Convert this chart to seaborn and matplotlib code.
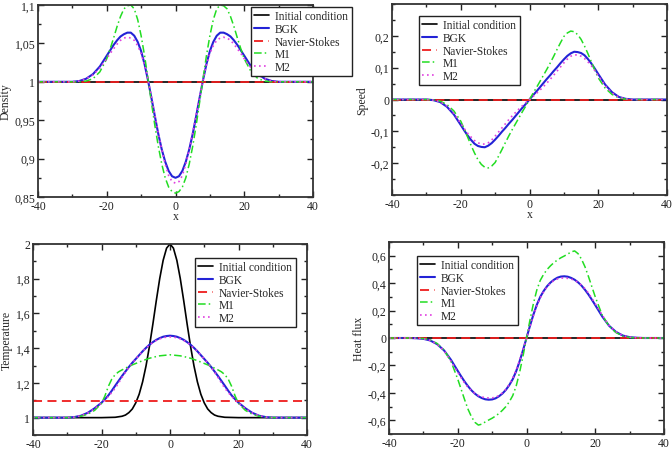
import numpy as np
import pandas as pd
import matplotlib
matplotlib.use("Agg")
import matplotlib.pyplot as plt
import seaborn as sns
from matplotlib.ticker import MultipleLocator, FixedLocator, FuncFormatter
from matplotlib.lines import Line2D

# ---------------- data ----------------
x = [-40, -38, -36, -34, -32, -30, -28, -26, -24, -22,
     -20, -19, -18, -17, -16, -15, -14, -13, -12, -11, -10, -9, -8, -7, -6, -5, -4, -3, -2, -1,
     0,
     1, 2, 3, 4, 5, 6, 7, 8, 9, 10, 11, 12, 13, 14, 15, 16, 17, 18, 19, 20,
     22, 24, 26, 28, 30, 32, 34, 36, 38, 40]

series_names = ["Initial condition", "BGK", "Navier-Stokes", "M1", "M2"]

# Density
dens_init = [1.0] * 61
dens_ns = [1.0] * 61
dens_bgk = [1.0, 1.0, 1.0, 1.0, 1.0, 1.0, 1.001, 1.004, 1.010, 1.020,
            1.034, 1.041, 1.048, 1.054, 1.059, 1.062, 1.064, 1.064, 1.060, 1.052, 1.040, 1.023, 1.002, 0.979, 0.955, 0.932, 0.912, 0.896, 0.884, 0.877,
            0.875,
            0.877, 0.884, 0.896, 0.912, 0.932, 0.955, 0.979, 1.002, 1.023, 1.040, 1.052, 1.060, 1.064, 1.064, 1.062, 1.059, 1.054, 1.048, 1.041, 1.034,
            1.020, 1.010, 1.004, 1.001, 1.0, 1.0, 1.0, 1.0, 1.0, 1.0]
dens_m1 = [1.0, 1.0, 1.0, 1.0, 1.0, 1.0, 1.0, 1.001, 1.004, 1.013,
           1.030, 1.043, 1.057, 1.072, 1.085, 1.095, 1.099, 1.100, 1.095, 1.081, 1.060, 1.034, 1.004, 0.973, 0.943, 0.916, 0.893, 0.875, 0.863, 0.857,
           0.855,
           0.857, 0.863, 0.875, 0.893, 0.916, 0.943, 0.973, 1.004, 1.034, 1.060, 1.081, 1.095, 1.100, 1.099, 1.095, 1.085, 1.072, 1.057, 1.043, 1.030,
           1.013, 1.004, 1.001, 1.0, 1.0, 1.0, 1.0, 1.0, 1.0, 1.0]
dens_m2 = [1.0, 1.0, 1.0, 1.0, 1.0, 1.0, 1.001, 1.004, 1.009, 1.018,
           1.030, 1.037, 1.043, 1.049, 1.054, 1.057, 1.058, 1.057, 1.054, 1.047, 1.037, 1.022, 1.003, 0.980, 0.957, 0.933, 0.912, 0.893, 0.878, 0.870,
           0.868,
           0.870, 0.878, 0.893, 0.912, 0.933, 0.957, 0.980, 1.003, 1.022, 1.037, 1.047, 1.054, 1.057, 1.058, 1.057, 1.054, 1.049, 1.043, 1.037, 1.030,
           1.018, 1.009, 1.004, 1.001, 1.0, 1.0, 1.0, 1.0, 1.0, 1.0]

# Speed
speed_init = [0.0] * 61
speed_ns = [0.0] * 61
speed_bgk = [0, 0, 0, 0, 0, 0, -0.002, -0.008, -0.023, -0.047,
             -0.080, -0.097, -0.113, -0.127, -0.139, -0.146, -0.149, -0.150, -0.145, -0.137, -0.126, -0.114, -0.101, -0.089, -0.076, -0.064, -0.051, -0.038, -0.025, -0.013,
             0,
             0.013, 0.025, 0.038, 0.051, 0.064, 0.076, 0.089, 0.101, 0.114, 0.126, 0.137, 0.145, 0.150, 0.149, 0.146, 0.139, 0.127, 0.113, 0.097, 0.080,
             0.047, 0.023, 0.008, 0.002, 0, 0, 0, 0, 0, 0]
speed_m1 = [0, 0, 0, 0, 0, 0, -0.001, -0.005, -0.016, -0.036,
            -0.068, -0.092, -0.118, -0.144, -0.168, -0.189, -0.204, -0.213, -0.215, -0.209, -0.198, -0.178, -0.157, -0.135, -0.114, -0.094, -0.075, -0.056, -0.037, -0.019,
            0,
            0.019, 0.037, 0.056, 0.075, 0.094, 0.114, 0.135, 0.157, 0.178, 0.198, 0.209, 0.215, 0.213, 0.204, 0.189, 0.168, 0.144, 0.118, 0.092, 0.068,
            0.036, 0.016, 0.005, 0.001, 0, 0, 0, 0, 0, 0]
speed_m2 = [0, 0, 0, 0, 0, 0, -0.002, -0.007, -0.021, -0.044,
            -0.075, -0.091, -0.106, -0.118, -0.129, -0.136, -0.140, -0.140, -0.136, -0.127, -0.115, -0.102, -0.089, -0.076, -0.063, -0.051, -0.040, -0.029, -0.019, -0.009,
            0,
            0.009, 0.019, 0.029, 0.040, 0.051, 0.063, 0.076, 0.089, 0.102, 0.115, 0.127, 0.136, 0.140, 0.140, 0.136, 0.129, 0.118, 0.106, 0.091, 0.075,
            0.044, 0.021, 0.007, 0.002, 0, 0, 0, 0, 0, 0]

# Temperature
temp_init_x = [-40, -30, -20, -16, -14, -13, -12, -11, -10, -9, -8, -7, -6, -5, -4, -3, -2, -1,
               0, 1, 2, 3, 4, 5, 6, 7, 8, 9, 10, 11, 12, 13, 14, 16, 20, 30, 40]
temp_init = [1.0, 1.0, 1.0, 1.002, 1.008, 1.015, 1.029, 1.050, 1.085, 1.135, 1.206, 1.298, 1.411, 1.539, 1.674, 1.801, 1.906, 1.976,
             2.0, 1.976, 1.906, 1.801, 1.674, 1.539, 1.411, 1.298, 1.206, 1.135, 1.085, 1.050, 1.029, 1.015, 1.008, 1.002, 1.0, 1.0, 1.0]
temp_ns = [1.095] * 61
temp_bgk = [1.0, 1.0, 1.0, 1.0, 1.0, 1.0, 1.003, 1.011, 1.028, 1.054,
            1.086, 1.106, 1.128, 1.155, 1.184, 1.212, 1.240, 1.266, 1.292, 1.316, 1.338, 1.360, 1.382, 1.402, 1.420, 1.435, 1.448, 1.458, 1.466, 1.470,
            1.472,
            1.470, 1.466, 1.458, 1.448, 1.435, 1.420, 1.402, 1.382, 1.360, 1.338, 1.316, 1.292, 1.266, 1.240, 1.212, 1.184, 1.155, 1.128, 1.106, 1.086,
            1.054, 1.028, 1.011, 1.003, 1.0, 1.0, 1.0, 1.0, 1.0, 1.0]
temp_m1 = [1.0, 1.0, 1.0, 1.0, 1.0, 1.0, 1.002, 1.008, 1.020, 1.042,
           1.082, 1.125, 1.180, 1.222, 1.248, 1.264, 1.275, 1.285, 1.295, 1.304, 1.312, 1.320, 1.328, 1.335, 1.342, 1.347, 1.352, 1.356, 1.358, 1.360,
           1.362,
           1.360, 1.358, 1.356, 1.352, 1.347, 1.342, 1.335, 1.328, 1.320, 1.312, 1.304, 1.295, 1.285, 1.275, 1.264, 1.248, 1.222, 1.180, 1.125, 1.082,
           1.042, 1.020, 1.008, 1.002, 1.0, 1.0, 1.0, 1.0, 1.0, 1.0]
temp_m2 = [1.0, 1.0, 1.0, 1.0, 1.0, 1.0, 1.003, 1.011, 1.027, 1.052,
           1.085, 1.103, 1.122, 1.145, 1.170, 1.200, 1.232, 1.262, 1.290, 1.315, 1.338, 1.360, 1.382, 1.401, 1.418, 1.433, 1.445, 1.454, 1.460, 1.464,
           1.465,
           1.464, 1.460, 1.454, 1.445, 1.433, 1.418, 1.401, 1.382, 1.360, 1.338, 1.315, 1.290, 1.262, 1.232, 1.200, 1.170, 1.145, 1.122, 1.103, 1.085,
           1.052, 1.027, 1.011, 1.003, 1.0, 1.0, 1.0, 1.0, 1.0, 1.0]

# Heat flux
hf_init = [0.0] * 61
hf_ns = [0.0] * 61
hf_bgk = [0, 0, 0, 0, -0.002, -0.006, -0.018, -0.045, -0.090, -0.158,
          -0.240, -0.280, -0.318, -0.352, -0.382, -0.406, -0.425, -0.438, -0.447, -0.450, -0.448, -0.440, -0.425, -0.405, -0.378, -0.343, -0.300, -0.242, -0.170, -0.088,
          0,
          0.088, 0.170, 0.242, 0.300, 0.343, 0.378, 0.405, 0.425, 0.440, 0.448, 0.450, 0.447, 0.438, 0.425, 0.406, 0.382, 0.352, 0.318, 0.280, 0.240,
          0.158, 0.090, 0.045, 0.018, 0.006, 0.002, 0, 0, 0, 0]
hf_m1 = [0, 0, 0, 0, -0.001, -0.004, -0.014, -0.040, -0.088, -0.168,
         -0.300, -0.375, -0.450, -0.520, -0.575, -0.615, -0.635, -0.628, -0.612, -0.598, -0.585, -0.569, -0.550, -0.527, -0.500, -0.465, -0.420, -0.350, -0.250, -0.130,
         0,
         0.130, 0.250, 0.350, 0.420, 0.465, 0.500, 0.527, 0.550, 0.569, 0.585, 0.598, 0.612, 0.628, 0.635, 0.615, 0.575, 0.520, 0.450, 0.375, 0.300,
         0.168, 0.088, 0.040, 0.014, 0.004, 0.001, 0, 0, 0, 0]
hf_m2 = [0, 0, 0, 0, -0.002, -0.006, -0.018, -0.046, -0.092, -0.168,
         -0.250, -0.290, -0.328, -0.360, -0.385, -0.405, -0.420, -0.430, -0.435, -0.437, -0.437, -0.431, -0.420, -0.400, -0.374, -0.338, -0.292, -0.234, -0.162, -0.083,
         0,
         0.083, 0.162, 0.234, 0.292, 0.338, 0.374, 0.400, 0.420, 0.431, 0.437, 0.437, 0.435, 0.430, 0.420, 0.405, 0.385, 0.360, 0.328, 0.290, 0.250,
         0.168, 0.092, 0.046, 0.018, 0.006, 0.002, 0, 0, 0, 0]

x_ticks = [-40, -20, 0, 20, 40]
dens_ticks = [0.85, 0.9, 0.95, 1.0, 1.05, 1.1]
speed_ticks = [-0.2, -0.1, 0.0, 0.1, 0.2]
temp_ticks = [1.0, 1.2, 1.4, 1.6, 1.8, 2.0]
hf_ticks = [-0.6, -0.4, -0.2, 0.0, 0.2, 0.4, 0.6]

# ---------------- styling ----------------
sns.set_theme(style="ticks")
plt.rcParams["font.family"] = ["Liberation Serif", "DejaVu Serif"]

styles = {
    "Initial condition": dict(color="#000000", lw=1.2, ls="-"),
    "BGK": dict(color="#2323d6", lw=1.5, ls="-"),
    "Navier-Stokes": dict(color="#ee1c1c", lw=1.3, ls=(0, (5, 3))),
    "M1": dict(color="#22dd22", lw=1.1, ls=(0, (5, 2, 1, 2))),
    "M2": dict(color="#e040e0", lw=1.2, ls=(0, (1, 2))),
}

W, H = 672, 452
fig = plt.figure(figsize=(W / 100, H / 100), dpi=100)


def add_ax(l, r, t, b):
    return fig.add_axes([l / W, 1 - b / H, (r - l) / W, (b - t) / H])


comma = FuncFormatter(lambda v, p: ("%g" % round(v, 6)).replace(".", ","))

panels = [
    dict(box=(38, 313, 6, 198), ylabel="Density", ylim=(0.85, 1.1), ticks=dens_ticks, minor=0.025,
         data=[(x, dens_init), (x, dens_bgk), (x, dens_ns), (x, dens_m1), (x, dens_m2)], leg=(251, 8)),
    dict(box=(392, 667, 5, 196), ylabel="Speed", ylim=(-0.3, 0.3), ticks=speed_ticks, minor=0.05,
         data=[(x, speed_init), (x, speed_bgk), (x, speed_ns), (x, speed_m1), (x, speed_m2)], leg=(419, 17)),
    dict(box=(33, 307, 245, 436), ylabel="Temperature", ylim=(0.9, 2.0), ticks=temp_ticks, minor=0.1,
         data=[(temp_init_x, temp_init), (x, temp_bgk), (x, temp_ns), (x, temp_m1), (x, temp_m2)], leg=(195, 259)),
    dict(box=(389, 664, 243, 435), ylabel="Heat flux", ylim=(-0.7, 0.7), ticks=hf_ticks, minor=0.1,
         data=[(x, hf_init), (x, hf_bgk), (x, hf_ns), (x, hf_m1), (x, hf_m2)], leg=(417, 257)),
]

for p in panels:
    ax = add_ax(*p["box"])
    for name, (xs, ys) in zip(series_names, p["data"]):
        df = pd.DataFrame({"x": xs, "y": ys})
        st = styles[name]
        sns.lineplot(data=df, x="x", y="y", ax=ax, color=st["color"], linewidth=st["lw"],
                     linestyle=st["ls"], label=name, legend=False, sort=False)
    ax.set_xlim(-40, 40)
    ax.set_ylim(*p["ylim"])
    ax.xaxis.set_major_locator(FixedLocator(x_ticks))
    ax.xaxis.set_minor_locator(MultipleLocator(10))
    ax.yaxis.set_major_locator(FixedLocator(p["ticks"]))
    ax.yaxis.set_minor_locator(MultipleLocator(p["minor"]))
    ax.xaxis.set_major_formatter(comma)
    ax.yaxis.set_major_formatter(comma)
    ax.tick_params(which="both", direction="in", top=True, right=True, labelsize=8.5,
                   colors="#222222", width=1.0, pad=2)
    ax.tick_params(which="major", length=4.5)
    ax.tick_params(which="minor", length=2.5)
    for s in ax.spines.values():
        s.set_linewidth(1.3)
        s.set_color("#333333")
    ax.set_xlabel("x", fontsize=8.5, labelpad=-1)
    ax.set_ylabel(p["ylabel"], fontsize=8.5, labelpad=2)
    handles = [Line2D([], [], color=styles[n]["color"], lw=styles[n]["lw"], ls=styles[n]["ls"]) for n in series_names]
    lx, ly = p["leg"]
    leg = ax.legend(handles, series_names, loc="upper left", bbox_to_anchor=(lx / W, 1 - ly / H),
                    bbox_transform=fig.transFigure, fontsize=8.3, frameon=True, fancybox=False,
                    framealpha=1, edgecolor="#222222", borderpad=0.3, labelspacing=0.05,
                    handlelength=1.3, handletextpad=0.5, borderaxespad=0)
    leg.get_frame().set_linewidth(1.0)

fig.savefig("out.png", dpi=100)
